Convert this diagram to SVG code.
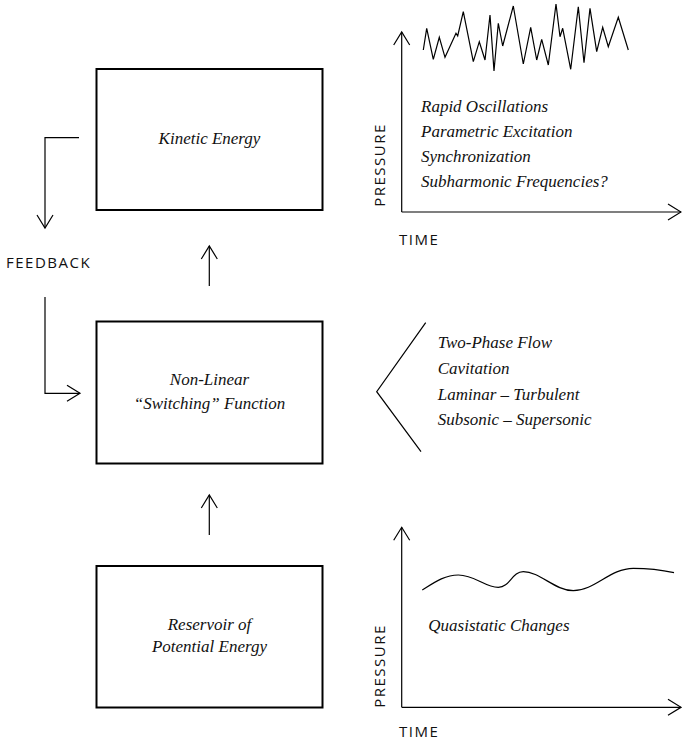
<svg xmlns="http://www.w3.org/2000/svg" width="682" height="741" viewBox="0 0 682 741">
<style>
.box{fill:#fff;stroke:#000;stroke-width:2}
.ln{fill:none;stroke:#000;stroke-width:1.2}
.it{font-family:"Liberation Serif","Times New Roman",serif;font-style:italic;font-size:17px;fill:#111}
.cap{font-family:"Open Sans","Liberation Sans",sans-serif;font-size:15px;letter-spacing:1.5px;fill:#111}
</style>
<defs>
<marker id="chev" viewBox="-16 -10 18 20" markerWidth="18" markerHeight="20" refX="0" refY="0" markerUnits="userSpaceOnUse" orient="auto" overflow="visible">
<path d="M-13,-8 L0,0 L-13,8" fill="none" stroke="#000" stroke-width="1.2"/>
</marker>
</defs>
<rect width="682" height="741" fill="#fff"/>

<g id="kinetic">
<rect class="box" x="96.5" y="69" width="226" height="141"/>
<text class="it" x="209.5" y="144" text-anchor="middle">Kinetic Energy</text>
</g>
<g id="nonlinear">
<rect class="box" x="96.5" y="321.5" width="226" height="142"/>
<text class="it" x="209.5" y="385" text-anchor="middle">Non-Linear</text>
<text class="it" x="209.5" y="408.5" text-anchor="middle">“Switching” Function</text>
</g>
<g id="reservoir">
<rect class="box" x="96.5" y="566" width="226" height="141.5"/>
<text class="it" x="209.5" y="630" text-anchor="middle">Reservoir of</text>
<text class="it" x="209.5" y="652" text-anchor="middle">Potential Energy</text>
</g>
<g id="feedback">
<text class="cap" x="6" y="268">FEEDBACK</text>
</g>
<g id="mechanisms">
<path class="ln" d="M425.7,322.7 L376.7,391.7 L421,451.7"/>
<text class="it" x="437.7" y="348">Two-Phase Flow</text>
<text class="it" x="437.7" y="374">Cavitation</text>
<text class="it" x="437.7" y="399.5">Laminar – Turbulent</text>
<text class="it" x="437.7" y="425">Subsonic – Supersonic</text>
</g>
<g id="graph-top">
<path class="ln" d="M401.7,212 L401.7,32" marker-end="url(#chev)"/>
<path class="ln" d="M401.7,212 L681,212" marker-end="url(#chev)"/>
<path class="ln" d="M423.3,50 L426.7,28.3 L433.3,59.3 L439.3,37.3 L445,57.3 L456,33.3 L457.7,36 L463.3,11.7 L473.3,61.7 L479.3,41.7 L485,60 L490,15 L494,71 L498.3,23.3 L502.7,46 L513.3,6 L523.3,64 L530.7,27.3 L536.7,60 L541.7,39.3 L548.3,65 L556,4 L560,36.7 L562.7,28.3 L570.7,69.3 L578.3,6.7 L584,62.7 L590,8.3 L596.7,51.7 L602.7,27.3 L608.3,46.7 L618.3,17.3 L628.3,50"/>
<text class="it" x="421" y="111.5">Rapid Oscillations</text>
<text class="it" x="421" y="136.5">Parametric Excitation</text>
<text class="it" x="421" y="161.5">Synchronization</text>
<text class="it" x="421" y="186.5">Subharmonic Frequencies?</text>
<text class="cap" transform="translate(384.5,165) rotate(-90)" text-anchor="middle">PRESSURE</text>
<text class="cap" x="399" y="245">TIME</text>
</g>
<g id="graph-bottom">
<path class="ln" d="M401.7,707.3 L401.7,527.3" marker-end="url(#chev)"/>
<path class="ln" d="M401.7,707.3 L681,707.3" marker-end="url(#chev)"/>
<path class="ln" d="M422.3,590 C435,582 445,575 458.3,575 C475,575 485,587.3 498.3,587.3 C510,587.3 512,571.7 523.3,571.7 C540,571.7 555,590.7 573.3,590.7 C595,590.7 610,568.3 633.3,568.3 C650,568.3 662,570 674,572.7"/>
<text class="it" x="428.3" y="630.5">Quasistatic Changes</text>
<text class="cap" transform="translate(384.5,666) rotate(-90)" text-anchor="middle">PRESSURE</text>
<text class="cap" x="399" y="737">TIME</text>
</g>
<g id="connectors">
<path class="ln" d="M79,137.7 L45,137.7 L45,228" marker-end="url(#chev)"/>
<path class="ln" d="M45,297 L45,393.3 L80,393.3" marker-end="url(#chev)"/>
<path class="ln" d="M209.3,286 L209.3,246" marker-end="url(#chev)"/>
<path class="ln" d="M209.3,535 L209.3,495" marker-end="url(#chev)"/>
</g>
</svg>
